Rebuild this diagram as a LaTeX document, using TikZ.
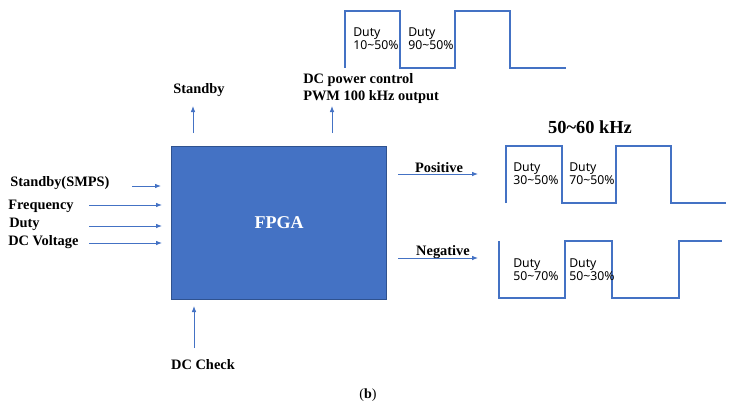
\documentclass[tikz,border=0pt]{standalone}
\usepackage{fontspec}
\setmainfont{Liberation Serif}
\newfontfamily\dutyfont{Noto Sans}
\usepackage{tikz}
\usetikzlibrary{arrows.meta}

\definecolor{fpgablue}{HTML}{4472C4}
\definecolor{fpgaedge}{HTML}{2F528F}

\tikzset{
    sig/.style={draw=fpgablue, line width=0.75pt, -{Latex[length=4.5pt,width=3.5pt]}},
    wave/.style={draw=fpgablue, line width=1.2pt},
    lbl/.style={inner sep=0pt, font=\fontsize{10.8}{12.75}\selectfont\bfseries},
    dutylbl/.style={inner sep=0pt, anchor=west, align=left, font=\dutyfont\fontsize{9.2}{10}\selectfont}
}

\begin{document}
\begin{tikzpicture}[x=0.75pt, y=-0.75pt]
        \useasboundingbox (0,0) rectangle (735,410);

        % FPGA block
        \node[fill=fpgablue, draw=fpgaedge, line width=0.5pt, minimum width=161pt, minimum height=114.75pt,
              inner sep=0pt, text=white, font=\fontsize{13.5}{15}\selectfont\bfseries] (fpga) at (279,222.5) {FPGA};

        % inputs
        \node[lbl, anchor=west] (stbsmps) at (10,183) {Standby(SMPS)};
        \node[lbl, anchor=west] (freq) at (8,206) {Frequency};
        \node[lbl, anchor=west] (duty) at (9,224) {Duty};
        \node[lbl, anchor=west] (dcv) at (8,242) {DC Voltage};
        \coordinate (stbsmpsA) at (132,186);
        \coordinate (stbsmpsB) at (161,186);
        \coordinate (freqA) at (89,205);
        \coordinate (freqB) at (162,205);
        \coordinate (dutyA) at (89,226);
        \coordinate (dutyB) at (162,226);
        \coordinate (dcvA) at (89,243);
        \coordinate (dcvB) at (162,243);
        \draw[sig] (stbsmpsA) -- (stbsmpsB);
        \draw[sig] (freqA) -- (freqB);
        \draw[sig] (dutyA) -- (dutyB);
        \draw[sig] (dcvA) -- (dcvB);

        % outputs on top
        \node[lbl] (stb) at (199,90) {Standby};
        \node[lbl, anchor=west, align=left] (pwm) at (303,88.5) {DC power control\\PWM 100 kHz output};
        \coordinate (stbA) at (193,133);
        \coordinate (stbB) at (193,106);
        \coordinate (pwmA) at (332,133);
        \coordinate (pwmB) at (332,106);
        \draw[sig] (stbA) -- (stbB);
        \draw[sig] (pwmA) -- (pwmB);

        % DC check
        \node[lbl] (dcchk) at (203,365) {DC Check};
        \coordinate (dcchkA) at (194,348);
        \coordinate (dcchkB) at (194,306);
        \draw[sig] (dcchkA) -- (dcchkB);

        % positive / negative
        \node[lbl] (pos) at (439,168) {Positive};
        \node[lbl] (neg) at (443,252) {Negative};
        \coordinate (posA) at (398,174);
        \coordinate (posB) at (478,174);
        \coordinate (negA) at (398,258);
        \coordinate (negB) at (478,258);
        \draw[sig] (posA) -- (posB);
        \draw[sig] (negA) -- (negB);
        \node[inner sep=0pt, font=\fontsize{13.8}{15}\selectfont\bfseries] (freqhz) at (590,127) {50\textasciitilde60 kHz};

        % PWM waveform
        \draw[wave] (345,68) -- (345,11) -- (400,11) -- (400,68) -- (455,68)
                    -- (455,11) -- (510,11) -- (510,68) -- (566,68);
        \node[dutylbl] (pwmd1) at (353,38.5) {Duty\\10\textasciitilde50\%};
        \node[dutylbl] (pwmd2) at (408,38.5) {Duty\\90\textasciitilde50\%};

        % positive waveform
        \draw[wave] (506,203) -- (506,146) -- (562,146) -- (562,203) -- (616,203)
                    -- (616,146) -- (671,146) -- (671,203) -- (726,203);
        \node[dutylbl] (posd1) at (513,174) {Duty\\30\textasciitilde50\%};
        \node[dutylbl] (posd2) at (569,174) {Duty\\70\textasciitilde50\%};

        % negative waveform
        \draw[wave] (499,241) -- (499,298) -- (565,298) -- (565,241) -- (612,241)
                    -- (612,298) -- (679,298) -- (679,241) -- (722,241);
        \node[dutylbl] (negd1) at (513,270) {Duty\\50\textasciitilde70\%};
        \node[dutylbl] (negd2) at (569,270) {Duty\\50\textasciitilde30\%};

        % caption
        \node[inner sep=0pt, font=\fontsize{10.5}{12}\selectfont] (cap) at (368,395) {(\textbf{b})};
\end{tikzpicture}
\end{document}
